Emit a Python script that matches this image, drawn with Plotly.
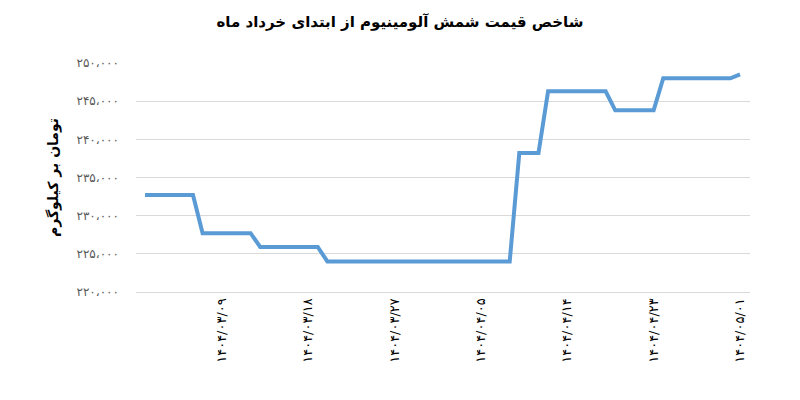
import plotly.graph_objects as go

dates = [
    "۱۴۰۴/۰۳/۰۱", "۱۴۰۴/۰۳/۰۲", "۱۴۰۴/۰۳/۰۳", "۱۴۰۴/۰۳/۰۴", "۱۴۰۴/۰۳/۰۵", "۱۴۰۴/۰۳/۰۶",
    "۱۴۰۴/۰۳/۰۷", "۱۴۰۴/۰۳/۰۸", "۱۴۰۴/۰۳/۰۹", "۱۴۰۴/۰۳/۱۰", "۱۴۰۴/۰۳/۱۱", "۱۴۰۴/۰۳/۱۲",
    "۱۴۰۴/۰۳/۱۳", "۱۴۰۴/۰۳/۱۴", "۱۴۰۴/۰۳/۱۵", "۱۴۰۴/۰۳/۱۶", "۱۴۰۴/۰۳/۱۷", "۱۴۰۴/۰۳/۱۸",
    "۱۴۰۴/۰۳/۱۹", "۱۴۰۴/۰۳/۲۰", "۱۴۰۴/۰۳/۲۱", "۱۴۰۴/۰۳/۲۲", "۱۴۰۴/۰۳/۲۳", "۱۴۰۴/۰۳/۲۴",
    "۱۴۰۴/۰۳/۲۵", "۱۴۰۴/۰۳/۲۶", "۱۴۰۴/۰۳/۲۷", "۱۴۰۴/۰۳/۲۸", "۱۴۰۴/۰۳/۲۹", "۱۴۰۴/۰۳/۳۰",
    "۱۴۰۴/۰۳/۳۱", "۱۴۰۴/۰۴/۰۱", "۱۴۰۴/۰۴/۰۲", "۱۴۰۴/۰۴/۰۳", "۱۴۰۴/۰۴/۰۴", "۱۴۰۴/۰۴/۰۵",
    "۱۴۰۴/۰۴/۰۶", "۱۴۰۴/۰۴/۰۷", "۱۴۰۴/۰۴/۰۸", "۱۴۰۴/۰۴/۰۹", "۱۴۰۴/۰۴/۱۰", "۱۴۰۴/۰۴/۱۱",
    "۱۴۰۴/۰۴/۱۲", "۱۴۰۴/۰۴/۱۳", "۱۴۰۴/۰۴/۱۴", "۱۴۰۴/۰۴/۱۵", "۱۴۰۴/۰۴/۱۶", "۱۴۰۴/۰۴/۱۷",
    "۱۴۰۴/۰۴/۱۸", "۱۴۰۴/۰۴/۱۹", "۱۴۰۴/۰۴/۲۰", "۱۴۰۴/۰۴/۲۱", "۱۴۰۴/۰۴/۲۲", "۱۴۰۴/۰۴/۲۳",
    "۱۴۰۴/۰۴/۲۴", "۱۴۰۴/۰۴/۲۵", "۱۴۰۴/۰۴/۲۶", "۱۴۰۴/۰۴/۲۷", "۱۴۰۴/۰۴/۲۸", "۱۴۰۴/۰۴/۲۹",
    "۱۴۰۴/۰۴/۳۰", "۱۴۰۴/۰۴/۳۱", "۱۴۰۴/۰۵/۰۱",
]

prices = [
    232700, 232700, 232700, 232700, 232700, 232700,
    227700, 227700, 227700, 227700, 227700, 227700,
    225900, 225900, 225900, 225900, 225900, 225900, 225900,
    224000, 224000, 224000, 224000, 224000, 224000, 224000, 224000, 224000, 224000,
    224000, 224000, 224000, 224000, 224000, 224000, 224000, 224000, 224000, 224000,
    238200, 238200, 238200,
    246300, 246300, 246300, 246300, 246300, 246300, 246300,
    243800, 243800, 243800, 243800, 243800,
    248000, 248000, 248000, 248000, 248000, 248000, 248000, 248000,
    248500,
]

x_tick_labels = ["۱۴۰۴/۰۳/۰۹", "۱۴۰۴/۰۳/۱۸", "۱۴۰۴/۰۳/۲۷", "۱۴۰۴/۰۴/۰۵",
                 "۱۴۰۴/۰۴/۱۴", "۱۴۰۴/۰۴/۲۳", "۱۴۰۴/۰۵/۰۱"]

y_tick_values = [220000, 225000, 230000, 235000, 240000, 245000, 250000]
y_tick_labels = ["۲۲۰،۰۰۰", "۲۲۵،۰۰۰", "۲۳۰،۰۰۰", "۲۳۵،۰۰۰", "۲۴۰،۰۰۰", "۲۴۵،۰۰۰", "۲۵۰،۰۰۰"]

title_text = "شاخص قیمت شمش آلومینیوم از ابتدای خرداد ماه"
y_title_text = "تومان بر کیلوگرم"

fig = go.Figure()
fig.add_trace(go.Scatter(
    x=dates, y=prices, mode="lines",
    line=dict(color="#5B9BD5", width=4),
    hoverinfo="x+y",
))

fig.update_layout(
    width=800, height=400,
    paper_bgcolor="white", plot_bgcolor="white",
    margin=dict(l=128, r=58, t=55, b=116, autoexpand=False),
    showlegend=False,
    font=dict(family="DejaVu Sans", color="#404040"),
    title=dict(text="<b>" + title_text + "</b>", x=0.49, xanchor="center",
               y=0.965, yanchor="middle",
               font=dict(family="DejaVu Sans", size=15, color="#000000")),
)

fig.update_xaxes(
    type="category",
    categoryorder="array", categoryarray=dates,
    range=[-0.94, 63.04],
    automargin=False,
    tickmode="array", tickvals=x_tick_labels, ticktext=x_tick_labels,
    tickangle=-90,
    tickfont=dict(family="DejaVu Sans", size=13, color="#000000"),
    showgrid=False,
    showline=True, linecolor="#D9D9D9", linewidth=1,
    ticks="",
    zeroline=False,
)

fig.update_yaxes(
    range=[220000, 250000],
    automargin=False,
    tickmode="array", tickvals=y_tick_values, ticktext=y_tick_labels,
    tickfont=dict(family="DejaVu Sans", size=12, color="#595959"),
    ticklabelstandoff=16,
    showgrid=True, gridcolor="#D9D9D9", gridwidth=1,
    showline=False, zeroline=False, ticks="",
    title=dict(text="<b>" + y_title_text + "</b>", standoff=14,
               font=dict(family="DejaVu Sans", size=14, color="#000000")),
)

fig.write_html("out.html")
